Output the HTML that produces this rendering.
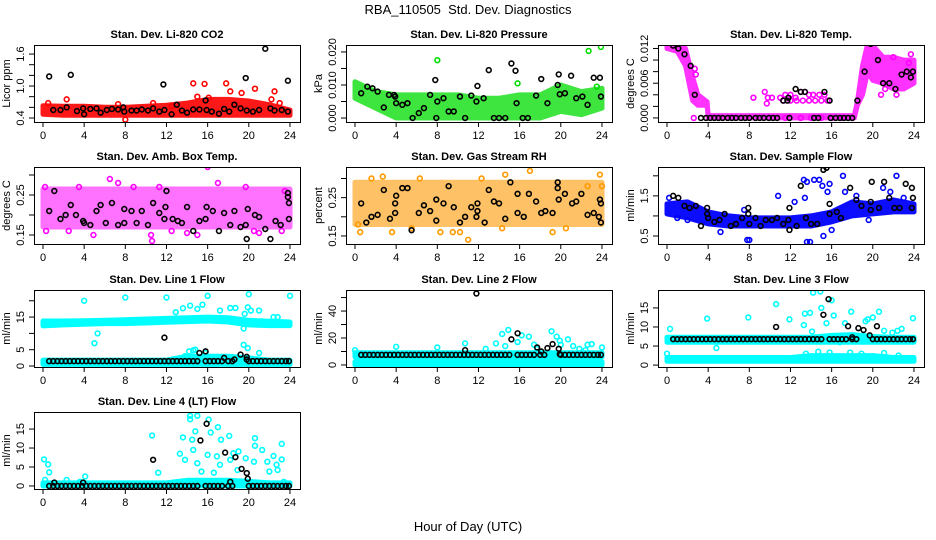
<!DOCTYPE html>
<html><head><meta charset="utf-8"><style>
body{margin:0;background:#fff;}
svg{display:block;font-family:"Liberation Sans",sans-serif;}
</style></head><body>
<svg id="chart" width="936" height="540" viewBox="0 0 936 540">
<rect width="936" height="540" fill="#fff"/>
<text x="468" y="14" text-anchor="middle" font-size="13" xml:space="preserve">RBA_110505&#160; Std. Dev. Diagnostics</text>
<text x="468" y="531" text-anchor="middle" font-size="13">Hour of Day (UTC)</text>
</svg>
<script>
const hours2 = [0,2,4,6,8,10,12,14,16,18,20,22,24];
const rowHours = [0.6,1,1.4,1.8,2.2,2.6,3,3.4,3.8,4.2,4.6,5,5.4,5.8,6.2,6.6,7,7.4,7.8,8.2,8.6,9,9.4,9.8,10.2,10.6,11,11.4,11.8,12.2,12.6,13,13.4,13.8,14.2,14.6,15,15.8,16.2,16.6,17,17.4,18,18.4,20,20.4,20.8,21.2,21.6,22,22.4,22.8,23.2,23.6,23.9];

// Panel 1 CO2
const co2Lo = [0.47,0.45,0.45,0.45,0.45,0.45,0.45,0.45,0.45,0.45,0.45,0.45,0.45];
const co2Hi = [0.63,0.62,0.62,0.6,0.6,0.62,0.64,0.68,0.75,0.75,0.72,0.65,0.55];
const co2Pts = [[0.5,0.68],[2.3,0.75],[7.3,0.66],[8,0.37],[10.7,0.68],[14.6,1.05],[15.7,1.04],[17.8,1.05],[18.2,0.9],[19.3,0.87],[20.6,0.95],[22.5,0.9],[22.2,0.75],[23,0.68],[16.1,0.78],[15,0.8],[12.5,0.62]];
const co2Blk = [[0.6,1.18],[2.7,1.21],[11.7,1.03],[19.7,1.15],[21.6,1.7],[23.8,1.1],[1,0.55],[1.7,0.55],[2.3,0.6],[3.3,0.53],[3.9,0.58],[4,0.47],[4.6,0.57],[5.2,0.58],[5.6,0.5],[6.2,0.55],[6.7,0.57],[7.3,0.56],[7.8,0.6],[7.9,0.52],[8.6,0.54],[9.1,0.54],[9.6,0.56],[10.2,0.54],[10.7,0.58],[11.3,0.52],[11.8,0.55],[12.5,0.47],[13,0.65],[13.5,0.54],[14,0.5],[14.6,0.56],[15.2,0.56],[15.9,0.55],[15.8,0.73],[16.4,0.52],[17.1,0.48],[17.6,0.57],[18.1,0.52],[18.6,0.65],[19.2,0.58],[19.8,0.54],[20.4,0.52],[21,0.55],[22.1,0.58],[22.5,0.54],[23.2,0.55],[23.8,0.52]];

// Panel 2 Pressure
const presLo = [0.006,0.003,0,0,0,0,0,0,0,0,0.002,0.001,0.003];
const presHi = [0.011,0.008,0.007,0.007,0.007,0.007,0.006,0.006,0.007,0.007,0.01,0.008,0.009];
const presPts = [[8,0.0175],[15.8,0.0105],[22.7,0.0203],[23.9,0.0215],[23.5,0.0095]];
const presBlk = [[0.6,0.0075],[1.2,0.0095],[1.7,0.009],[2.2,0.008],[2.8,0.0032],[3.3,0.007],[3.8,0.007],[3.9,0.0065],[4,0.0045],[4.6,0.004],[5.1,0.0045],[5.6,0],[6.2,0.0015],[6.7,0.003],[7.3,0.007],[7.8,0.0115],[7.9,0],[8,0.005],[8.6,0.006],[9.1,0.002],[9.6,0.002],[10.2,0.0065],[10.7,0],[11.3,0.0068],[11.8,0.005],[11.9,0.0097],[12.5,0.006],[13,0.0145],[13.5,0],[14,0],[14.6,0],[15.2,0.0165],[15.6,0.0143],[15.7,0.0045],[16.3,0],[16.8,0],[17.6,0.0068],[18.1,0.0118],[18.7,0.0045],[19.7,0.01],[19.8,0.0132],[19.9,0.0072],[20.4,0.0075],[21,0.0128],[21.5,0.006],[22.1,0.0065],[22.6,0.004],[23.2,0.0122],[23.8,0.0122],[23.9,0.0065]];

// Panel 3 Temp
const tempHours = [0,1,1.8,2.5,3,3.9,4,18.2,18.5,19,19.5,20,21,22,23,24];
const tempLo = [0.012,0.0115,0.009,0.003,0.0022,0.0022,0,0,0.0022,0.004,0.008,0.0065,0.006,0.005,0.005,0.006];
const tempHi = [0.0128,0.0128,0.012,0.007,0.004,0.0028,0.0004,0.0004,0.0028,0.009,0.0128,0.0125,0.0105,0.0105,0.01,0.01];
const tempPts = [[2.7,0.0085],[2.8,0.0075],[8.4,0.0035],[9.5,0.0045],[9.7,0.0025],[9.8,0.0035],[10.2,0.0035],[11,0.0035],[11.5,0.004],[12,0.004],[12.5,0.0035],[13,0.0045],[13.4,0.0045],[13.8,0.004],[14.2,0.004],[14.8,0.004],[15.3,0.004],[11.3,0.003],[12,0.003],[12.6,0.003],[13.2,0.003],[13.8,0.003],[14.4,0.003],[15,0.003],[15.6,0.003],[20.8,0.004],[21.2,0.005],[22.3,0.004],[23.5,0.0095],[23.7,0.011],[22,0.0105],[2.6,0.0],[11.5,0],[13,0],[14,0],[15,0],[16,0],[17,0],[18,0]];
const tempBlk = [[0.6,0.0125],[1.1,0.012],[1.7,0.011],[2.3,0.009],[2.7,0.004],[3.3,0],[3.8,0],[4.2,0],[4.6,0],[5,0],[5.4,0],[5.9,0],[6.3,0],[6.7,0],[7.2,0],[7.6,0],[8,0],[8.6,0],[9,0],[9.4,0],[9.9,0],[10.3,0],[10.7,0],[11.3,0.003],[11.7,0.003],[11.8,0.0035],[11.9,0],[12.5,0.005],[13,0.0045],[13.4,0.0045],[14.3,0],[14.7,0],[15.3,0.0045],[15.8,0.003],[15.9,0],[16.4,0],[16.8,0],[17.2,0],[17.6,0],[18,0],[18.5,0.003],[19.2,0.008],[19.8,0.0128],[20.5,0.01],[21,0.006],[21.6,0.006],[22.2,0.005],[22.8,0.0075],[23.3,0.008],[23.7,0.007],[23.9,0.008]];

// Panel 4 Amb box temp
const ambLo = [0.17,0.17,0.17,0.17,0.17,0.17,0.17,0.17,0.17,0.17,0.17,0.17,0.17];
const ambHi = [0.265,0.265,0.265,0.265,0.265,0.265,0.265,0.265,0.265,0.265,0.265,0.265,0.265];
const ambPts = [[0.3,0.16],[0.2,0.27],[3.5,0.27],[4.9,0.15],[6.5,0.29],[7.3,0.28],[8.8,0.27],[10.5,0.15],[10.6,0.135],[11.3,0.27],[15,0.15],[16,0.32],[17,0.28],[19.7,0.27],[20.5,0.16],[23.2,0.16],[23.5,0.26],[2.5,0.16],[12.5,0.16],[14,0.155],[21,0.155]];
const ambBlk = [[0.6,0.21],[1.1,0.26],[1.7,0.19],[2.2,0.2],[2.7,0.225],[3.2,0.2],[3.9,0.185],[4,0.18],[4.6,0.175],[5.2,0.21],[5.6,0.225],[6.1,0.18],[6.7,0.23],[7.3,0.175],[7.9,0.215],[7.9,0.18],[8.6,0.21],[9.1,0.18],[9.6,0.21],[10.2,0.175],[10.7,0.23],[11.3,0.205],[11.8,0.19],[11.9,0.22],[12,0.26],[12.6,0.19],[13.1,0.185],[13.5,0.18],[14,0.22],[14.6,0.16],[15.2,0.185],[15.8,0.19],[15.9,0.22],[16.5,0.21],[17.1,0.16],[17.6,0.205],[18.2,0.175],[18.6,0.21],[19.2,0.17],[19.7,0.175],[19.8,0.14],[19.9,0.215],[20.6,0.2],[21,0.195],[21.6,0.165],[22.1,0.14],[22.6,0.185],[23.1,0.175],[23.8,0.245],[23.9,0.23],[23.9,0.19],[23.8,0.255]];

// Panel 5 RH
const rhLo = [0.18,0.18,0.18,0.18,0.18,0.18,0.18,0.18,0.18,0.18,0.18,0.18,0.18];
const rhHi = [0.29,0.29,0.29,0.29,0.29,0.29,0.29,0.29,0.29,0.29,0.29,0.29,0.29];
const rhPts = [[0.3,0.18],[0.5,0.16],[1.6,0.3],[2.7,0.305],[3.6,0.16],[6.3,0.3],[8.3,0.16],[9.5,0.16],[10.2,0.16],[11,0.14],[12.3,0.3],[14.3,0.17],[14.6,0.31],[17,0.32],[19.2,0.16],[22.6,0.28],[23.8,0.31],[24,0.28],[5.5,0.17],[20.5,0.17]];
const rhBlk = [[0.6,0.235],[1.1,0.185],[1.6,0.2],[2.2,0.205],[2.8,0.27],[3.4,0.195],[3.9,0.21],[3.9,0.235],[4,0.255],[4.6,0.275],[5.1,0.275],[5.5,0.165],[6.2,0.21],[6.7,0.23],[7.3,0.215],[7.9,0.19],[7.9,0.245],[8.6,0.235],[9.1,0.28],[9.6,0.225],[10.2,0.185],[10.7,0.2],[11.3,0.225],[11.8,0.2],[11.9,0.215],[11.9,0.235],[12.6,0.185],[13,0.27],[13.5,0.24],[14,0.235],[14.6,0.195],[15.1,0.29],[15.8,0.21],[15.8,0.26],[16.4,0.2],[16.9,0.26],[17.6,0.24],[18.1,0.21],[18.5,0.215],[19.2,0.21],[19.7,0.29],[19.7,0.275],[19.8,0.245],[20.4,0.26],[21.1,0.235],[21.5,0.24],[22,0.26],[22.6,0.205],[23.2,0.21],[23.7,0.2],[23.8,0.245],[23.9,0.185],[23.9,0.235]];

// Panel 6 Sample flow
const flowLo = [1.05,0.95,0.8,0.75,0.75,0.75,0.75,0.75,0.85,1.0,1.05,1.1,1.1];
const flowHi = [1.3,1.35,1.1,1.0,0.95,0.95,0.95,1.0,1.1,1.35,1.3,1.4,1.3];
const flowPts = [[0.2,1.45],[1,0.95],[2,0.9],[5.2,0.6],[7.8,0.4],[8,0.4],[7.5,1.15],[10.8,1.5],[13.6,0.35],[13.9,0.35],[13.3,1.9],[13.6,1.85],[14.3,1.9],[14.8,1.9],[15.1,1.75],[15.6,1.6],[15.8,1.8],[15.2,0.5],[16,0.65],[17.1,2.0],[17.3,1.6],[18.4,1.5],[19.6,0.9],[21,1.7],[21.7,1.6],[22.3,2.0],[23,1.45],[12.4,1.35],[13.4,1.45]];
const flowBlk = [[0.6,1.5],[1.1,1.45],[1.7,1.25],[2.2,1.2],[2.8,1.25],[3.3,0.75],[3.9,1.2],[3.9,1.05],[4,0.95],[4.6,0.85],[5.1,0.9],[5.6,1.05],[6.2,0.75],[6.7,0.8],[7.3,0.95],[7.9,1.2],[7.9,1.05],[8,0.8],[8.6,0.95],[9.1,0.75],[9.6,0.9],[10.2,0.9],[10.7,0.95],[11.3,0.8],[11.8,0.9],[11.9,0.65],[11.9,1.2],[12.6,0.75],[13,1.75],[13.5,0.95],[14,0.8],[14.6,0.8],[15.2,2.15],[15.5,2.2],[15.8,1.05],[15.8,1.3],[16.5,1.1],[16.9,0.95],[17.8,1.7],[18.4,1.4],[18.9,1.25],[19.8,1.35],[19.8,1.15],[19.9,1.85],[20.6,1.2],[21.1,1.85],[21.6,1.45],[22.1,1.2],[22.6,1.2],[23.2,1.8],[23.8,1.7],[23.9,1.45],[23.8,1.2]];

// Panel 7 Line 1
const l1LoA = [12.3,12.6,12.8,13,13,13.2,13.4,13.6,13.8,13.5,12.6,12.4,12.4];
const l1HiA = [13.8,13.8,13.9,14,14.2,14.4,14.6,14.8,15,14.8,14,13.7,13.5];
const l1LoB = [0.5,0.5,0.5,0.5,0.5,0.5,0.5,0.5,0.5,0.5,0.5,0.5,0.5];
const l1HiB = [1.8,1.8,1.8,1.8,1.8,1.8,1.8,3,3,3,2.5,1.8,1.8];
const l1Pts = [[4,20],[8,21],[12,21],[16,21.5],[20,22],[24,21.5],[5,7],[5.3,10],[13.6,17.7],[14.3,18.5],[15,17.5],[15.5,18.8],[17.2,17],[18.2,17.8],[18.7,17.8],[19.6,16],[19.9,18],[20.2,17],[21,17],[22.4,15],[22.8,15],[19.5,11.5],[14.8,5],[15.8,4],[14.2,4.5],[19.5,6.5],[19.9,5.5],[21,4],[13.8,3],[14.6,4.8],[12.9,16.5]];
const l1RowY = 1.5;
const l1Blk = [[11.8,8.7],[15.2,4],[15.8,4.5],[17.6,2.5],[18.6,2],[19.2,3.5],[19.8,2.8],[19.8,2]];

// Panel 8 Line 2
const l2LoA = [0,0,0,0,0,0,0,0,0,0,0,0,0];
const l2HiA = [2.5,2.5,2.5,2.5,2.5,2.5,2.5,6,8,8,6,3,2.5];
const l2LoB = [6,6,6,6,6,6,6,6,6,6,6,6,6];
const l2HiB = [9,9,9,9,9,9,9,9,9,9,9,9,9];
const l2Pts = [[0,11],[4,13.5],[8,13],[10.7,16],[12.7,12],[13.7,16],[14.3,23],[14.9,26],[14.6,14],[15.8,17],[16.2,22],[16.9,21],[17.4,15],[17.7,12],[19.1,25],[19.6,21],[19.9,18],[20,15],[20.7,19],[21.2,14],[21.8,12],[22.4,11],[22.6,15],[23,15.5],[24,13]];
const l2RowY = 7.5;
const l2Blk = [[11.8,53],[10.7,11],[15.2,19],[15.8,23.5],[17.7,13],[18.1,10],[18.7,12.5],[19.2,15.5],[19.8,12],[19.9,8]];

// Panel 9 Line 3
const l3LoA = [1,1,1,1,1,1,1,1,1,1,1,1,1];
const l3HiA = [2,2,2,2,2,2,2,2.5,2.5,2.5,2.5,2,2];
const l3LoB = [6,6,6,6,6,6,6,6,6,6,6,6,6];
const l3HiB = [7.3,7.3,7.3,7.3,7.3,7.3,7.3,7.3,7.8,8,7.5,7.3,7.3];
const l3Pts = [[0,3],[0.3,9.5],[3.9,12.2],[4.8,4.5],[7.9,12.5],[10.6,16],[11.9,12],[13.4,13.5],[13.9,13.7],[14.2,19],[14.9,19.3],[15,15],[15.5,11],[16,17],[16.2,13],[16.8,6],[17.3,11],[17.9,14],[19.3,11.5],[19.5,12],[20,12.5],[20.6,14],[21.1,9],[21.9,8.5],[22.4,9],[22.8,9.5],[23.9,12.3],[13.5,3],[14.7,3.5],[15.8,3.3],[17.8,3.3],[18.9,3],[21.1,3.2],[22.5,2.5],[13.3,10.5],[14.1,8.8]];
const l3RowY = 6.8;
const l3Blk = [[10.6,10],[15.2,13.2],[15.7,17.3],[17.6,10.2],[18.6,9.7],[19.1,9.2],[19.7,7.8],[20.4,10.2],[18,7.3]];

// Panel 10 Line 4
const l4Lo = [0,0,0,0,0,0,0,0,0,0,0,0,0];
const l4Hi = [0.8,0.8,0.8,0.8,0.8,0.8,0.8,1.5,1.5,1.5,1.2,0.8,0.8];
const l4Pts = [[0.1,7],[0.5,5.7],[0.6,3.6],[0.2,1.6],[2.3,1.6],[4.1,2.5],[3.6,1.1],[10.6,13.3],[11.2,3.5],[13.3,8.5],[13.6,12.8],[13.8,6.9],[14.3,18.5],[14.3,17.6],[15,18.5],[14.8,14.4],[14.5,12.2],[14.6,9.5],[15,6],[15.4,3.8],[16.1,17.5],[16.3,14.1],[16,8.2],[16.6,3.5],[17,15.5],[17.3,12.2],[16.9,7.8],[17.2,5.6],[18.1,13.2],[18.2,6.9],[18.5,8.6],[19,9.1],[18.9,4.2],[19.7,7.3],[20.5,6.4],[20.6,12.6],[20.6,10.6],[21.3,9.5],[21.8,6.4],[22,3.8],[22.4,7.9],[22.7,5.6],[23.2,11.1],[23.2,7],[23.4,1.1],[22.8,4.2]];
const l4RowY = 0;
const l4Blk = [[1.1,0.9],[3.9,0.9],[10.7,6.9],[15.3,12],[15.9,16.4],[17.7,8.8],[18.2,1.1],[18.7,7.6],[19.3,4.5],[19.8,3.4],[19.9,1.9]];

const xTicks = [0,4,8,12,16,20,24];
const NS = "http://www.w3.org/2000/svg";
const svg = document.getElementById("chart");
function el(tag, attrs, parent){const e=document.createElementNS(NS,tag);for(const k in attrs)e.setAttribute(k,attrs[k]);(parent||svg).appendChild(e);return e;}

const panels = [
 {key:"co2",col:0,row:0,title:"Stan. Dev. Li-820 CO2",ylab:"Licor ppm",ymin:0.325,ymax:1.77,ticks:[0.4,0.6,0.8,1.0,1.2,1.4,1.6],labels:["0.4","1.0","1.6"],color:"#ff0000",op:0.9,bands:[[hours2,co2Lo,co2Hi]],pts:co2Pts,blk:co2Blk},
 {key:"pressure",col:1,row:0,title:"Stan. Dev. Li-820 Pressure",ylab:"kPa",ymin:-0.0012,ymax:0.0221,ticks:[0,0.005,0.01,0.015,0.02],labels:["0.000","0.010","0.020"],color:"#00dd00",op:0.75,bands:[[hours2,presLo,presHi]],pts:presPts,blk:presBlk},
 {key:"temp",col:2,row:0,title:"Stan. Dev. Li-820 Temp.",ylab:"degrees C",ymin:-0.0007,ymax:0.0126,ticks:[0,0.002,0.004,0.006,0.008,0.01,0.012],labels:["0.000","0.006","0.012"],color:"#ff00ff",op:0.8,bands:[[tempHours,tempLo,tempHi]],pts:tempPts,blk:tempBlk},
 {key:"amb-temp",col:0,row:1,title:"Stan. Dev. Amb. Box Temp.",ylab:"degrees C",ymin:0.1275,ymax:0.32,ticks:[0.15,0.2,0.25,0.3],labels:["0.15","0.25"],color:"#ff00ff",op:0.55,bands:[[hours2,ambLo,ambHi]],pts:ambPts,blk:ambBlk},
 {key:"rh",col:1,row:1,title:"Stan. Dev. Gas Stream RH",ylab:"percent",ymin:0.129,ymax:0.33,ticks:[0.15,0.2,0.25,0.3],labels:["0.15","0.25"],color:"#ff9900",op:0.6,bands:[[hours2,rhLo,rhHi]],pts:rhPts,blk:rhBlk},
 {key:"sample-flow",col:2,row:1,title:"Stan. Dev. Sample Flow",ylab:"ml/min",ymin:0.3,ymax:2.22,ticks:[0.5,1,1.5,2],labels:["0.5","1.5"],color:"#0000ff",op:0.95,bands:[[hours2,flowLo,flowHi]],pts:flowPts,blk:flowBlk},
 {key:"line1",col:0,row:2,title:"Stan. Dev. Line 1 Flow",ylab:"ml/min",ymin:-0.3,ymax:23.3,ticks:[0,5,10,15,20],labels:["0","5","15"],color:"#00ffff",op:1,bands:[[hours2,l1LoA,l1HiA],[hours2,l1LoB,l1HiB]],pts:l1Pts,blk:l1Blk,rowY:l1RowY},
 {key:"line2",col:1,row:2,title:"Stan. Dev. Line 2 Flow",ylab:"ml/min",ymin:-1.5,ymax:55.6,ticks:[0,10,20,30,40,50],labels:["0","20","40"],color:"#00ffff",op:1,bands:[[hours2,l2LoA,l2HiA],[hours2,l2LoB,l2HiB]],pts:l2Pts,blk:l2Blk,rowY:l2RowY},
 {key:"line3",col:2,row:2,title:"Stan. Dev. Line 3 Flow",ylab:"ml/min",ymin:-0.5,ymax:19.7,ticks:[0,5,10,15],labels:["0","5","10","15"],color:"#00ffff",op:1,bands:[[hours2,l3LoA,l3HiA],[hours2,l3LoB,l3HiB]],pts:l3Pts,blk:l3Blk,rowY:l3RowY},
 {key:"line4",col:0,row:3,title:"Stan. Dev. Line 4 (LT) Flow",ylab:"ml/min",ymin:-0.8,ymax:19.5,ticks:[0,5,10,15],labels:["0","5","10","15"],color:"#00ffff",op:1,bands:[[hours2,l4Lo,l4Hi]],pts:l4Pts,blk:l4Blk,rowY:l4RowY}
];
const rowTops=[45,167,290,412];

panels.forEach(p=>{
  const L=34+312*p.col, R=L+266, T=rowTops[p.row], B=T+77;
  const xs=h=>L+9+h*10.29;
  const ys=v=>B-(v-p.ymin)/(p.ymax-p.ymin)*77;
  const g=el("g",{});
  
  
  const t=el("text",{x:(L+R)/2,y:T-7,"text-anchor":"middle","font-size":"11","font-weight":"bold"},g);
  t.textContent=p.title;
  
  
  const clip=el("clipPath",{id:"c-"+p.key},g);
  el("rect",{x:L,y:T,width:266,height:77},clip);
  const data=el("g",{"clip-path":"url(#c-"+p.key+")"},g);
  
  
  p.bands.forEach(b=>{
    const [hx,lo,hi]=b;
    let d="M"+hx.map((h,i)=>xs(h).toFixed(1)+","+ys(hi[i]).toFixed(1)).join("L");
    d+="L"+hx.map((h,i)=>[h,i]).reverse().map(([h,i])=>xs(h).toFixed(1)+","+ys(lo[i]).toFixed(1)).join("L")+"Z";
    const band=el("path",{d:d,fill:p.color,stroke:p.color,"stroke-width":"5","stroke-linejoin":"round",opacity:p.op},data);
    
    
  });
  p.pts.forEach(pt=>{
    const c=el("circle",{cx:xs(pt[0]),cy:ys(pt[1]),r:2.4,fill:"none",stroke:p.color,"stroke-width":"1.6"},data);
    
    
  });
  if(p.rowY!==undefined){
    rowHours.forEach(h=>{
      const c=el("circle",{cx:xs(h),cy:ys(p.rowY),r:2.4,fill:"none",stroke:"#000","stroke-width":"1.6"},data);
      
      
    });
  }
  p.blk.forEach(pt=>{
    const c=el("circle",{cx:xs(pt[0]),cy:ys(pt[1]),r:2.4,fill:"none",stroke:"#000","stroke-width":"1.6"},data);
    
    
  });
  const box=el("rect",{x:L+0.5,y:T+0.5,width:266,height:77,fill:"none",stroke:"#000","stroke-width":"1"},g);
  
  
  const xa=el("g",{},g);
  
  
  xTicks.forEach(h=>{
    el("line",{x1:xs(h),x2:xs(h),y1:B,y2:B+5,stroke:"#000"},xa);
    const lt=el("text",{x:xs(h),y:B+17,"text-anchor":"middle","font-size":"11"},xa);
    lt.textContent=h;
  });
  const ya=el("g",{},g);
  
  
  p.ticks.forEach(v=>{
    el("line",{x1:L-5,x2:L,y1:ys(v),y2:ys(v),stroke:"#000"},ya);
  });
  p.labels.forEach(s=>{
    const v=parseFloat(s);
    const lt=el("text",{x:L-10,y:ys(v),"text-anchor":"middle","font-size":"11",transform:"rotate(-90 "+(L-10)+" "+ys(v)+")"},ya);
    lt.textContent=s;
  });
  const yl=el("text",{x:L-24,y:(T+B)/2,"text-anchor":"middle","font-size":"11",transform:"rotate(-90 "+(L-24)+" "+(T+B)/2+")"},g);
  yl.textContent=p.ylab;
  
  
});
</script>
</body></html>
